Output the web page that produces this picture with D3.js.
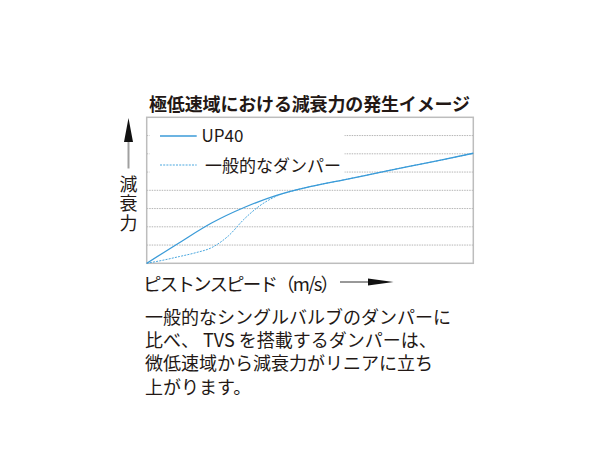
<!DOCTYPE html>
<html><head><meta charset="utf-8">
<script src="https://cdn.jsdelivr.net/npm/d3@7"></script>
<style>
html,body{margin:0;padding:0;background:#fff;}
svg{display:block;}
text{font-family:"Noto Sans CJK JP","Noto Sans",sans-serif;fill:#231815;}
</style></head>
<body>
<script>
// ---- data ----
const speedUP40 = [0, 1, 2, 3, 4, 5, 6, 7, 8, 9, 10];
const forceUP40 = [0, 1.13, 2.22, 3.07, 3.74, 4.2, 4.56, 4.93, 5.3, 5.65, 6.03];
const speedStd = [0, 0.5, 1, 1.5, 2, 2.5, 3, 3.5, 4, 4.5, 5, 6, 7, 8, 9, 10];
const forceStd = [0, 0.17, 0.37, 0.58, 0.87, 1.5, 2.45, 3.2, 3.7, 3.98, 4.2, 4.56, 4.93, 5.3, 5.65, 6.03];
const gridValues = [1, 2, 3, 4, 5, 6, 7];
const seriesNames = ["UP40", "一般的なダンパー"];
const titleText = "極低速域における減衰力の発生イメージ";
const yLabelText = "減衰力";
const xLabelText = "ピストンスピード（m/s）";
const noteLines = [
  "一般的なシングルバルブのダンパーに",
  "比べ、 TVS を搭載するダンパーは、",
  "微低速域から減衰力がリニアに立ち",
  "上がります。"
];

const W = 600, H = 450;
const svg = d3.select("body").append("svg").attr("width", W).attr("height", H);

const x0 = 146.7, x1 = 473.3, y0 = 263.3, y1 = 117.3;
const x = d3.scaleLinear().domain([0, 10]).range([x0, x1]);
const y = d3.scaleLinear().domain([0, 8]).range([y0, y1]);

const blue = "#3b9bd8";

// title
svg.append("text").attr("x", 149).attr("y", 102.5)
  .attr("dominant-baseline", "central")
  .attr("font-size", 18).attr("font-weight", "bold")
  .attr("textLength", 321).attr("lengthAdjust", "spacing")
  .text(titleText);

// grid lines
svg.append("g").selectAll("line").data(gridValues).join("line")
  .attr("x1", x0).attr("x2", x1)
  .attr("y1", d => y(d)).attr("y2", d => y(d))
  .attr("stroke", "#b5b5b5").attr("stroke-width", 1)
  .attr("stroke-dasharray", "1.5,1");

// legend background
svg.append("rect").attr("x", 149.5).attr("y", 124).attr("width", 195).attr("height", 56)
  .attr("fill", "#fff");

// frame
svg.append("rect").attr("x", x0).attr("y", y1).attr("width", x1 - x0).attr("height", y0 - y1)
  .attr("fill", "none").attr("stroke", "#bdbdbd").attr("stroke-width", 1.5);

// lines
const line = d3.line().x(d => x(d[0])).y(d => y(d[1])).curve(d3.curveMonotoneX);
svg.append("path").datum(speedStd.map((s, i) => [s, forceStd[i]]))
  .attr("d", line).attr("fill", "none").attr("stroke", "#4aa7df")
  .attr("stroke-width", 1).attr("stroke-dasharray", "2,1.2");
svg.append("path").datum(speedUP40.map((s, i) => [s, forceUP40[i]]))
  .attr("d", line).attr("fill", "none").attr("stroke", blue)
  .attr("stroke-width", 1.3);

// legend
svg.append("line").attr("x1", 160).attr("x2", 196.7).attr("y1", 136).attr("y2", 136)
  .attr("stroke", blue).attr("stroke-width", 1.3);
svg.append("text").attr("x", 201.5).attr("y", 142.3).attr("font-size", 17).text(seriesNames[0]);
svg.append("line").attr("x1", 160).attr("x2", 196.7).attr("y1", 165).attr("y2", 165)
  .attr("stroke", "#4aa7df").attr("stroke-width", 1).attr("stroke-dasharray", "2,1.2");
svg.append("text").attr("x", 205).attr("y", 164.5).attr("dominant-baseline", "central")
  .attr("font-size", 17).text(seriesNames[1]);

// y axis arrow + label
svg.append("line").attr("x1", 128.5).attr("x2", 128.5).attr("y1", 141).attr("y2", 168.5)
  .attr("stroke", "#a0a0a0").attr("stroke-width", 2);
svg.append("path").attr("d", "M128.5,118L124,142L133,142Z").attr("fill", "#111");
svg.append("text").attr("x", 128.5).attr("y", 175)
  .style("writing-mode", "vertical-rl")
  .attr("letter-spacing", 1.5)
  .attr("font-size", 18).text(yLabelText);

// x axis label + arrow
svg.append("text").attr("x", 143).attr("y", 282.5).attr("dominant-baseline", "central")
  .attr("font-size", 18.5).attr("textLength", 196).attr("lengthAdjust", "spacing")
  .text(xLabelText);
svg.append("line").attr("x1", 340).attr("x2", 370).attr("y1", 282).attr("y2", 282)
  .attr("stroke", "#333").attr("stroke-width", 1);
svg.append("path").attr("d", "M368,278.5L393.5,282L368,285.5Z").attr("fill", "#111");

// note paragraph (one text block with a tspan per line)
const note = svg.append("text").attr("x", 145).attr("y", 315.7)
  .attr("dominant-baseline", "central").attr("font-size", 18);
note.selectAll("tspan").data(noteLines).join("tspan")
  .attr("x", 145).attr("y", (d, i) => 315.7 + i * 23.35)
  .attr("dominant-baseline", "central")
  .text(d => d);
</script>
</body></html>
